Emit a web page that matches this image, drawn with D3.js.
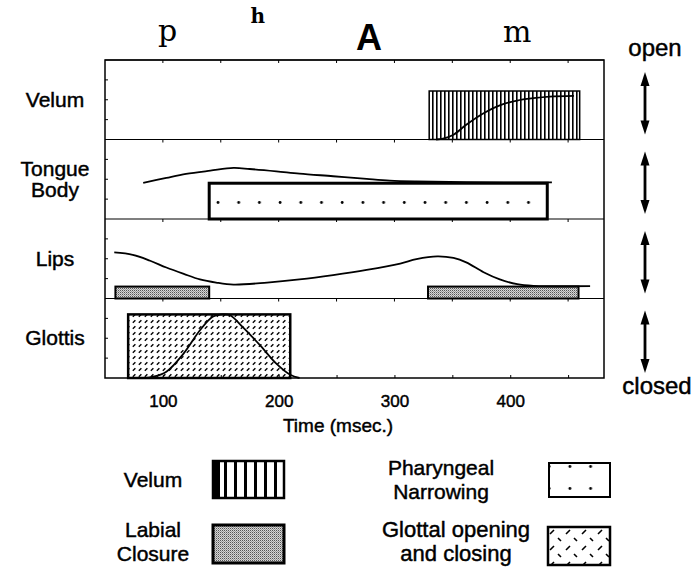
<!DOCTYPE html>
<html>
<head>
<meta charset="utf-8">
<script src="https://cdn.jsdelivr.net/npm/d3@7"></script>
<style>
  body { margin: 0; background: #fff; }
  text { font-family: "Liberation Sans", Arial, sans-serif; fill: #000; }
  .heavy { stroke: #000; stroke-width: 0.45px; }
</style>
</head>
<body>
<div id="app"></div>
<script>
// articulator rows, top to bottom
const articulators = ['Velum', 'Tongue Body', 'Lips', 'Glottis'];
const phones = ['p', 'h', 'A', 'm'];
const phoneTimes = [104, 182, 278, 406];
const xTicks = [100, 200, 300, 400];
const minorTicks = [100, 150, 200, 250, 300, 350, 400, 450];

// gesture boxes: [start ms, end ms, height 0-10]
const velumBoxes = [[330, 460, 6.1]];
const tongueBoxes = [[140, 432, 4.5]];
const lipsBoxes = [[59, 140, 1.5], [329, 459, 1.5]];
const glottisBoxes = [[70, 210, 8.0]];

// movement traces: [ms, aperture 0-10]
const velumCurve = [[336, 0], [342, 0.1], [351, 0.6], [362, 1.85], [377, 3.3], [391, 4.3],
  [406, 4.9], [420, 5.2], [434, 5.4], [455, 5.5]];
const tongueCurve = [[83, 4.54], [103, 5.17], [120, 5.67], [141, 6.08], [161, 6.42], [175, 6.29],
  [198, 6.0], [218, 5.71], [247, 5.38], [276, 5.04], [296, 4.83], [319, 4.72], [362, 4.62], [436, 4.6]];
const lipsCurve = [[58, 5.8], [74, 5.5], [89, 4.75], [103, 3.9], [118, 3.1], [132, 2.4], [146, 2.0],
  [161, 1.75], [190, 2.0], [218, 2.4], [247, 2.95], [276, 3.6], [305, 4.4], [319, 4.95], [337, 5.3],
  [351, 5.1], [362, 4.55], [377, 3.3], [391, 2.4], [406, 1.8], [420, 1.6], [469, 1.55]];
const glottisCurve = [[85, 0], [90, 0.1], [103, 0.8], [118, 3.1], [132, 6.0], [143, 7.7], [151, 8.0],
  [158, 7.9], [169, 6.4], [184, 4.1], [198, 1.8], [210, 0.4], [218, 0]];

const boxes = [velumBoxes, tongueBoxes, lipsBoxes, glottisBoxes];
const curves = [velumCurve, tongueCurve, lipsCurve, glottisCurve];
const fills = ['url(#velumPat)', 'url(#dotPat)', 'url(#labialPat)', 'url(#glottalPat)'];
const boxStroke = [1.5, 3, 2, 2.5];

const legendLabels = ['Velum', 'Labial\nClosure', 'Pharyngeal\nNarrowing', 'Glottal opening\nand closing'];
const legendFills = ['url(#velumPatBig)', 'url(#labialPat)', 'url(#dotPat)', 'url(#glottalPatBig)'];

const width = 697, height = 567;
const plot = { left: 105, right: 604, top: 60, bottom: 378 };

const svg = d3.select('#app').append('svg')
  .attr('width', width).attr('height', height);

const defs = svg.append('defs');
// vertical stripes
const vp = defs.append('pattern').attr('id', 'velumPat').attr('patternUnits', 'userSpaceOnUse')
  .attr('width', 4).attr('height', 4);
vp.append('rect').attr('width', 4).attr('height', 4).attr('fill', '#fff');
vp.append('rect').attr('width', 1.6).attr('height', 4).attr('fill', '#000');
const vpb = defs.append('pattern').attr('id', 'velumPatBig').attr('patternUnits', 'userSpaceOnUse')
  .attr('x', 214).attr('width', 10).attr('height', 10);
vpb.append('rect').attr('width', 10).attr('height', 10).attr('fill', '#fff');
vpb.append('rect').attr('width', 3).attr('height', 10).attr('fill', '#000');
// dots
const dp = defs.append('pattern').attr('id', 'dotPat').attr('patternUnits', 'userSpaceOnUse')
  .attr('width', 20.7).attr('height', 22);
dp.append('rect').attr('width', 20.7).attr('height', 22).attr('fill', '#fff');
dp.append('circle').attr('cx', 11).attr('cy', 4.5).attr('r', 1.4).attr('fill', '#000');
// gray stipple
const lp = defs.append('pattern').attr('id', 'labialPat').attr('patternUnits', 'userSpaceOnUse')
  .attr('width', 2).attr('height', 2);
lp.append('rect').attr('width', 2).attr('height', 2).attr('fill', '#d6d6d6');
lp.append('rect').attr('width', 1).attr('height', 1).attr('fill', '#555');
lp.append('rect').attr('x', 1).attr('y', 1).attr('width', 1).attr('height', 1).attr('fill', '#9a9a9a');
// glottal dashes
const gp = defs.append('pattern').attr('id', 'glottalPat').attr('patternUnits', 'userSpaceOnUse')
  .attr('width', 6).attr('height', 6);
gp.append('rect').attr('width', 6).attr('height', 6).attr('fill', '#fff');
gp.append('path').attr('d', 'M0.8,4.8L3.4,2.2').attr('stroke', '#000').attr('stroke-width', 1.4);
const gpb = defs.append('pattern').attr('id', 'glottalPatBig').attr('patternUnits', 'userSpaceOnUse')
  .attr('x', 548).attr('y', 527).attr('width', 16).attr('height', 16);
gpb.append('rect').attr('width', 16).attr('height', 16).attr('fill', '#fff');
gpb.append('path').attr('d', 'M2,7L6,3M10,11L13,14').attr('stroke', '#000').attr('stroke-width', 1.6);

const x = d3.scaleLinear().domain([50, 481]).range([plot.left, plot.right]);
const band = d3.scaleBand().domain(articulators).range([plot.top, plot.bottom]);

// phone labels
const phoneStyle = [
  { font: '"DejaVu Serif", serif', size: 30, weight: 400, y: 41 },
  { font: '"DejaVu Serif", serif', size: 20, weight: 700, y: 23 },
  { font: '"Liberation Sans", Arial, sans-serif', size: 36, weight: 700, y: 50 },
  { font: '"DejaVu Serif", serif', size: 30, weight: 400, y: 42 },
];
svg.append('g').selectAll('text').data(phones).join('text')
  .attr('x', (d, i) => x(phoneTimes[i]))
  .attr('y', (d, i) => phoneStyle[i].y)
  .attr('text-anchor', 'middle')
  .style('font-family', (d, i) => phoneStyle[i].font)
  .style('font-size', (d, i) => phoneStyle[i].size + 'px')
  .style('font-weight', (d, i) => phoneStyle[i].weight)
  .text(d => d);

const line = d3.line().x(d => x(d[0])).curve(d3.curveCatmullRom);

articulators.forEach((name, i) => {
  const top = band(name), bot = top + band.bandwidth();
  const y = d3.scaleLinear().domain([0, 10]).range([bot, top]);
  const g = svg.append('g');

  g.selectAll('rect.box').data(boxes[i]).join('rect')
    .attr('class', 'box')
    .attr('x', d => x(d[0]))
    .attr('y', d => y(d[2]))
    .attr('width', d => x(d[1]) - x(d[0]))
    .attr('height', d => y(0) - y(d[2]))
    .attr('fill', fills[i])
    .attr('stroke', '#000')
    .attr('stroke-width', boxStroke[i]);

  g.append('path')
    .attr('d', line.y(d => y(d[1]))(curves[i]))
    .attr('fill', 'none')
    .attr('stroke', '#000')
    .attr('stroke-width', 1.8);

  // divider with small ticks
  g.append('line').attr('x1', plot.left).attr('x2', plot.right)
    .attr('y1', top).attr('y2', top).attr('stroke', '#000').attr('stroke-width', 1.2);
  g.selectAll('line.tk').data(minorTicks).join('line')
    .attr('class', 'tk')
    .attr('x1', d => x(d)).attr('x2', d => x(d))
    .attr('y1', top).attr('y2', top + 3)
    .attr('stroke', '#000');
  g.selectAll('line.ytk').data([2.5, 5, 7.5]).join('line')
    .attr('class', 'ytk')
    .attr('x1', plot.left).attr('x2', plot.left + 3)
    .attr('y1', d => y(d)).attr('y2', d => y(d))
    .attr('stroke', '#000');

  // row label
  const lines = name.split(' ');
  const ty = (top + bot) / 2 - (lines.length - 1) * 10;
  const t = svg.append('text').attr('class', 'heavy').attr('x', 55).attr('y', ty + 7)
    .attr('text-anchor', 'middle').style('font-size', '21px');
  lines.forEach((l, k) => t.append('tspan').attr('x', 55).attr('dy', k ? 21 : 0).text(l));

  // open/closed arrow
  const ax = 645, ay1 = top + 12, ay2 = bot - 5;
  svg.append('line').attr('x1', ax).attr('x2', ax).attr('y1', ay1 + 8).attr('y2', ay2 - 8)
    .attr('stroke', '#000').attr('stroke-width', 2.8);
  svg.append('path').attr('d', `M${ax},${ay1}L${ax - 4.5},${ay1 + 14}L${ax + 4.5},${ay1 + 14}Z`).attr('fill', '#000');
  svg.append('path').attr('d', `M${ax},${ay2}L${ax - 4.5},${ay2 - 14}L${ax + 4.5},${ay2 - 14}Z`).attr('fill', '#000');
});

// outer frame
svg.append('rect')
  .attr('x', plot.left).attr('y', plot.top)
  .attr('width', plot.right - plot.left).attr('height', plot.bottom - plot.top)
  .attr('fill', 'none').attr('stroke', '#000').attr('stroke-width', 1.5);

// x axis
const xAxis = svg.append('g').attr('transform', `translate(0,${plot.bottom})`)
  .call(d3.axisBottom(x).tickValues(minorTicks).tickSize(-3).tickFormat(d => xTicks.includes(d) ? d : ''));
xAxis.select('.domain').remove();
xAxis.selectAll('text').attr('class', 'heavy').attr('dy', 0).attr('y', 29).style('font-size', '17px')
  .style('font-family', '"Liberation Sans", Arial, sans-serif');
xAxis.selectAll('line').attr('stroke', '#000');

svg.append('text').attr('class', 'heavy').attr('x', 338).attr('y', 432).attr('text-anchor', 'middle')
  .style('font-size', '19px').text('Time (msec.)');

svg.append('text').attr('class', 'heavy').attr('x', 655).attr('y', 56).attr('text-anchor', 'middle')
  .style('font-size', '24px').text('open');
svg.append('text').attr('class', 'heavy').attr('x', 657).attr('y', 394).attr('text-anchor', 'middle')
  .style('font-size', '24px').text('closed');

// legend
const legPos = [
  { tx: 153, ty: 480, sx: 213, sy: 461, sw: 71, sh: 37, sw2: 2.5 },
  { tx: 153, ty: 542, sx: 213, sy: 525, sw: 71, sh: 38, sw2: 3 },
  { tx: 441, ty: 480, sx: 549, sy: 463, sw: 61, sh: 34, sw2: 2 },
  { tx: 456, ty: 542, sx: 548, sy: 527, sw: 62, sh: 38, sw2: 2.5 },
];
const leg = svg.append('g');
legendLabels.forEach((lab, i) => {
  const p = legPos[i];
  const parts = lab.split('\n');
  const t = leg.append('text').attr('class', 'heavy').attr('x', p.tx).attr('y', p.ty + 7 - (parts.length - 1) * 12)
    .attr('text-anchor', 'middle').style('font-size', i === 3 ? '22px' : '21px');
  parts.forEach((s, k) => t.append('tspan').attr('x', p.tx).attr('dy', k ? 24 : 0).text(s));
  leg.append('rect').attr('x', p.sx).attr('y', p.sy).attr('width', p.sw).attr('height', p.sh)
    .attr('fill', legendFills[i]).attr('stroke', '#000').attr('stroke-width', p.sw2);
});
// thick left bar on the velum swatch
leg.append('rect').attr('x', legPos[0].sx).attr('y', legPos[0].sy)
  .attr('width', 7).attr('height', legPos[0].sh).attr('fill', '#000');
</script>
</body>
</html>
